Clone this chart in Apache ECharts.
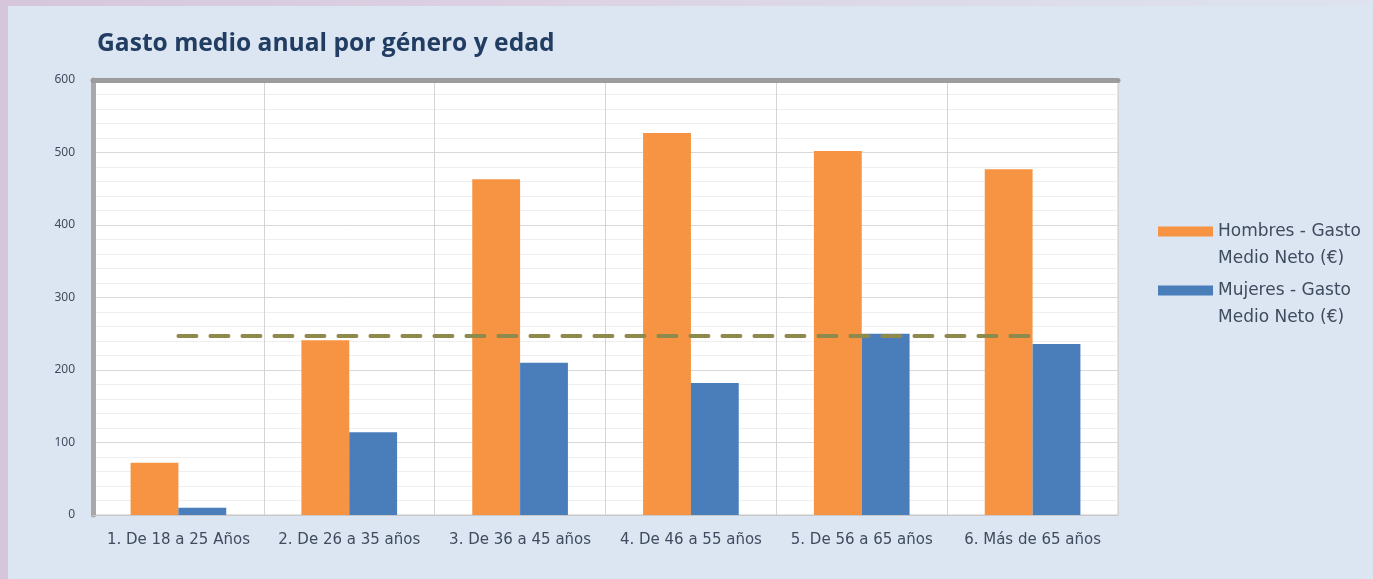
<!DOCTYPE html>
<html>
<head>
<meta charset="utf-8">
<script src="https://cdn.jsdelivr.net/npm/echarts@6/dist/echarts.min.js"></script>
<style>
  html, body { margin: 0; padding: 0; width: 1373px; height: 579px; overflow: hidden;
    background: linear-gradient(90deg, #d6c6dc, #dcd2e4 40%, #dde3ef); }
  #chart { position: absolute; left: 8px; top: 6px; width: 1365px; height: 573px; background: #dce6f2; }
</style>
</head>
<body>
<div id="chart"></div>
<script>
// categorias (tramos de edad)
var categorias = ['1. De 18 a 25 Años', '2. De 26 a 35 años', '3. De 36 a 45 años',
                  '4. De 46 a 55 años', '5. De 56 a 65 años', '6. Más de 65 años'];
// gasto medio neto (€)
var hombres = [72, 241, 463, 527, 502, 477];
var mujeres = [10, 114, 210, 182, 250, 236];
// linea de referencia discontinua
var referencia = [247, 247, 247, 247, 247, 247];
var ticksY = [0, 100, 200, 300, 400, 500, 600];

var chart = echarts.init(document.getElementById('chart'));

var options = {
    backgroundColor: '#dce6f2',
    title: {
        text: 'Gasto medio anual por género y edad',
        left: 84,
        top: 20,
        textStyle: {
            fontFamily: 'Open Sans',
            fontSize: 24.6,
            fontWeight: 'bold',
            color: '#223d62'
        }
    },
    legend: {
        orient: 'vertical',
        left: 1145,
        top: 180,
        icon: 'rect',
        itemWidth: 55,
        itemHeight: 10,
        itemGap: -22,
        data: ['Hombres - Gasto\nMedio Neto (€)', 'Mujeres - Gasto\nMedio Neto (€)'],
        // linea vacia arriba para que el icono quede junto a la primera linea
        formatter: function (name) { return '\n' + name; },
        textStyle: {
            fontFamily: 'DejaVu Sans',
            fontSize: 17,
            lineHeight: 27,
            color: '#3f4b5e'
        }
    },
    grid: {
        left: 85,
        right: 255,
        top: 74,
        bottom: 64,
        show: true,
        backgroundColor: '#ffffff',
        borderColor: '#c8c8c8',
        borderWidth: 1
    },
    xAxis: [{
        type: 'category',
        data: categorias,
        axisTick: { show: false },
        axisLine: { lineStyle: { color: '#c8c8c8', width: 1 } },
        splitLine: { show: true, lineStyle: { color: '#d4d4d4', width: 1 } },
        axisLabel: {
            fontFamily: 'DejaVu Sans',
            fontSize: 15,
            color: '#3f4b5e',
            margin: 18,
            interval: 0
        }
    }, {
        type: 'category',
        position: 'top',
        data: categorias,
        axisTick: { show: false },
        axisLabel: { show: false },
        axisLine: { lineStyle: { color: '#9c9c9c', width: 5 } }
    }],
    yAxis: {
        type: 'value',
        min: 0,
        max: 600,
        interval: 100,
        axisLine: { show: true, lineStyle: { color: '#a8a8a8', width: 5 } },
        axisTick: { show: false },
        minorTick: { show: false, splitNumber: 5 },
        splitLine: { lineStyle: { color: '#d9d9d9', width: 1 } },
        minorSplitLine: { show: true, lineStyle: { color: '#efefef', width: 1 } },
        axisLabel: {
            fontFamily: 'Noto Sans',
            fontSize: 12,
            color: '#3f4b5e',
            margin: 18,
            formatter: function (v) { return ticksY.indexOf(v) >= 0 ? String(v) : ''; }
        }
    },
    series: [{
        name: 'Hombres - Gasto\nMedio Neto (€)',
        type: 'bar',
        data: hombres,
        barGap: '0%',
        barCategoryGap: '44%',
        itemStyle: { color: '#f79443' }
    }, {
        name: 'Mujeres - Gasto\nMedio Neto (€)',
        type: 'bar',
        data: mujeres,
        barGap: '0%',
        barCategoryGap: '44%',
        itemStyle: { color: '#4a7ebb' }
    }, {
        name: 'Referencia',
        type: 'line',
        data: referencia,
        symbol: 'none',
        z: 5,
        lineStyle: { color: '#8d8a4c', width: 4, type: [18, 14], cap: 'round' }
    }]
};

chart.setOption(options);
</script>
</body>
</html>
